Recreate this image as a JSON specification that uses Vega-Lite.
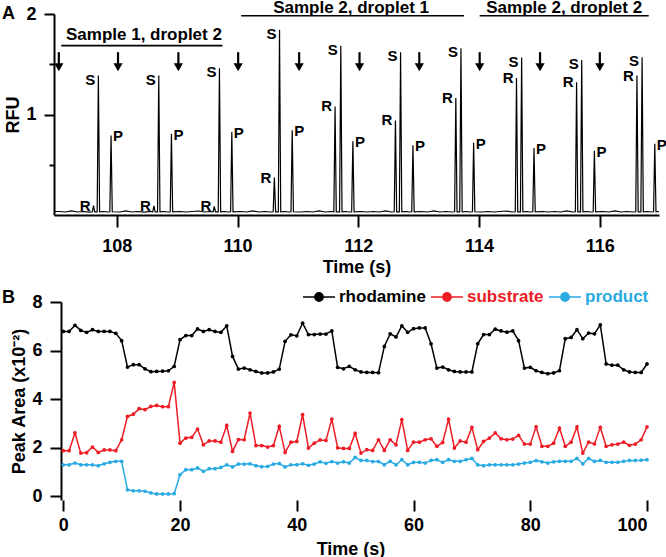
{
"$schema":"https://vega.github.io/schema/vega-lite/v6.json",
"background":"white",
"padding":{"left":2,"top":-2,"right":2,"bottom":0},
"spacing":13,
"config":{
 "font":"Liberation Sans",
 "view":{"stroke":null},
 "axis":{"domainColor":"black","domainWidth":2,"tickColor":"black","tickWidth":2,"labelColor":"black","labelFont":"Liberation Sans","labelFontSize":18,"labelFontWeight":"bold","titleColor":"black","titleFont":"Liberation Sans","titleFontSize":18,"titleFontWeight":"bold","grid":false},
 "title":{"font":"Liberation Sans","fontSize":18,"fontWeight":"bold","color":"black"}
},
"datasets":{
 "trace":[
{"t":106.96,"y":0.035},
{"t":107.05,"y":0.035},{"t":107.15,"y":0.03},{"t":107.25,"y":0.04},{"t":107.35,"y":0.03},{"t":107.45,"y":0.035},{"t":107.55,"y":0.028},
{"t":107.595,"y":0.032},{"t":107.615,"y":0.094},{"t":107.635,"y":0.032},{"t":107.675,"y":0.032},{"t":107.695,"y":1.388},{"t":107.715,"y":0.032},
{"t":107.78,"y":0.035},{"t":107.85,"y":0.03},{"t":107.885,"y":0.032},{"t":107.905,"y":0.792},{"t":107.925,"y":0.032},
{"t":108.05,"y":0.03},{"t":108.15,"y":0.04},{"t":108.25,"y":0.03},{"t":108.35,"y":0.035},{"t":108.45,"y":0.028},{"t":108.55,"y":0.035},
{"t":108.595,"y":0.032},{"t":108.615,"y":0.09},{"t":108.635,"y":0.032},{"t":108.675,"y":0.032},{"t":108.695,"y":1.388},{"t":108.715,"y":0.032},
{"t":108.78,"y":0.035},{"t":108.85,"y":0.03},{"t":108.885,"y":0.032},{"t":108.905,"y":0.809},{"t":108.925,"y":0.032},
{"t":109.05,"y":0.035},{"t":109.15,"y":0.03},{"t":109.25,"y":0.035},{"t":109.35,"y":0.04},{"t":109.45,"y":0.03},{"t":109.55,"y":0.035},
{"t":109.595,"y":0.032},{"t":109.615,"y":0.085},{"t":109.635,"y":0.032},{"t":109.68,"y":0.032},{"t":109.7,"y":1.461},{"t":109.72,"y":0.032},
{"t":109.78,"y":0.035},{"t":109.85,"y":0.03},{"t":109.885,"y":0.032},{"t":109.905,"y":0.826},{"t":109.925,"y":0.032},
{"t":110.05,"y":0.035},{"t":110.15,"y":0.03},{"t":110.25,"y":0.04},{"t":110.35,"y":0.03},{"t":110.45,"y":0.035},{"t":110.55,"y":0.03},
{"t":110.59,"y":0.032},{"t":110.61,"y":0.372},{"t":110.63,"y":0.032},{"t":110.675,"y":0.032},{"t":110.695,"y":1.844},{"t":110.715,"y":0.032},
{"t":110.78,"y":0.035},{"t":110.85,"y":0.03},{"t":110.885,"y":0.032},{"t":110.905,"y":0.842},{"t":110.925,"y":0.032},
{"t":111.05,"y":0.03},{"t":111.15,"y":0.035},{"t":111.25,"y":0.03},{"t":111.35,"y":0.04},{"t":111.45,"y":0.03},{"t":111.55,"y":0.035},
{"t":111.595,"y":0.032},{"t":111.615,"y":1.08},{"t":111.635,"y":0.032},{"t":111.69,"y":0.032},{"t":111.71,"y":1.685},{"t":111.73,"y":0.032},
{"t":111.79,"y":0.035},{"t":111.85,"y":0.03},{"t":111.89,"y":0.032},{"t":111.91,"y":0.733},{"t":111.93,"y":0.032},
{"t":112.05,"y":0.035},{"t":112.15,"y":0.03},{"t":112.25,"y":0.035},{"t":112.35,"y":0.03},{"t":112.45,"y":0.04},{"t":112.55,"y":0.03},
{"t":112.595,"y":0.032},{"t":112.615,"y":0.941},{"t":112.635,"y":0.032},{"t":112.68,"y":0.032},{"t":112.7,"y":1.62},{"t":112.72,"y":0.032},
{"t":112.79,"y":0.035},{"t":112.85,"y":0.03},{"t":112.885,"y":0.032},{"t":112.905,"y":0.693},{"t":112.925,"y":0.032},
{"t":113.05,"y":0.035},{"t":113.15,"y":0.03},{"t":113.25,"y":0.04},{"t":113.35,"y":0.03},{"t":113.45,"y":0.035},{"t":113.55,"y":0.03},
{"t":113.595,"y":0.032},{"t":113.615,"y":1.163},{"t":113.635,"y":0.032},{"t":113.68,"y":0.032},{"t":113.7,"y":1.66},{"t":113.72,"y":0.032},
{"t":113.79,"y":0.035},{"t":113.85,"y":0.03},{"t":113.89,"y":0.032},{"t":113.91,"y":0.72},{"t":113.93,"y":0.032},
{"t":114.05,"y":0.03},{"t":114.15,"y":0.035},{"t":114.25,"y":0.03},{"t":114.35,"y":0.035},{"t":114.45,"y":0.04},{"t":114.55,"y":0.03},
{"t":114.6,"y":0.032},{"t":114.62,"y":1.362},{"t":114.64,"y":0.032},{"t":114.685,"y":0.032},{"t":114.705,"y":1.566},{"t":114.725,"y":0.032},
{"t":114.79,"y":0.035},{"t":114.85,"y":0.03},{"t":114.89,"y":0.032},{"t":114.91,"y":0.667},{"t":114.93,"y":0.032},
{"t":115.05,"y":0.035},{"t":115.15,"y":0.03},{"t":115.25,"y":0.035},{"t":115.35,"y":0.03},{"t":115.45,"y":0.04},{"t":115.55,"y":0.03},
{"t":115.595,"y":0.032},{"t":115.615,"y":1.322},{"t":115.635,"y":0.032},{"t":115.68,"y":0.032},{"t":115.7,"y":1.543},{"t":115.72,"y":0.032},
{"t":115.79,"y":0.035},{"t":115.85,"y":0.03},{"t":115.89,"y":0.032},{"t":115.91,"y":0.64},{"t":115.93,"y":0.032},
{"t":116.05,"y":0.035},{"t":116.15,"y":0.03},{"t":116.25,"y":0.04},{"t":116.35,"y":0.03},{"t":116.45,"y":0.035},{"t":116.55,"y":0.03},
{"t":116.595,"y":0.032},{"t":116.615,"y":1.388},{"t":116.635,"y":0.032},{"t":116.68,"y":0.032},{"t":116.7,"y":1.57},{"t":116.72,"y":0.032},
{"t":116.79,"y":0.035},{"t":116.85,"y":0.03},{"t":116.89,"y":0.032},{"t":116.91,"y":0.71},{"t":116.93,"y":0.032},
{"t":116.98,"y":0.035}
 ],
 "shaft":[
{"t":107.04,"y":1.62,"y2":1.49},{"t":108.02,"y":1.62,"y2":1.49},{"t":109.02,"y":1.62,"y2":1.49},{"t":110.01,"y":1.62,"y2":1.49},{"t":111.02,"y":1.62,"y2":1.49},
{"t":112.02,"y":1.62,"y2":1.49},{"t":113.01,"y":1.62,"y2":1.49},{"t":114.01,"y":1.62,"y2":1.49},{"t":115.01,"y":1.62,"y2":1.49},{"t":116.0,"y":1.62,"y2":1.49}
 ],
 "head":[
{"t":107.04,"y":1.47},{"t":108.02,"y":1.47},{"t":109.02,"y":1.47},{"t":110.01,"y":1.47},{"t":111.02,"y":1.47},
{"t":112.02,"y":1.47},{"t":113.01,"y":1.47},{"t":114.01,"y":1.47},{"t":115.01,"y":1.47},{"t":116.0,"y":1.47}
 ],
 "brackets":[
{"t":107.08,"t2":109.75,"y":1.685},{"t":110.06,"t2":113.75,"y":1.983},{"t":114.01,"t2":116.81,"y":1.983}
 ],
 "stext":[
{"t":108.45,"y":1.742,"label":"Sample 1, droplet 2"},{"t":111.88,"y":2.012,"label":"Sample 2, droplet 1"},{"t":115.41,"y":2.012,"label":"Sample 2, droplet 2"}
 ],
 "plabels":[
{"t":107.695,"y":1.388,"lab":"S"},{"t":108.695,"y":1.388,"lab":"S"},{"t":109.7,"y":1.461,"lab":"S"},{"t":110.695,"y":1.844,"lab":"S"},{"t":111.71,"y":1.685,"lab":"S"},
{"t":112.7,"y":1.62,"lab":"S"},{"t":113.7,"y":1.66,"lab":"S"},{"t":114.705,"y":1.566,"lab":"S"},{"t":115.7,"y":1.543,"lab":"S"},{"t":116.7,"y":1.57,"lab":"S"},
{"t":107.615,"y":0.094,"lab":"R"},{"t":108.615,"y":0.09,"lab":"R"},{"t":109.615,"y":0.085,"lab":"R"},{"t":110.61,"y":0.372,"lab":"R"},{"t":111.615,"y":1.08,"lab":"R"},
{"t":112.615,"y":0.941,"lab":"R"},{"t":113.615,"y":1.163,"lab":"R"},{"t":114.62,"y":1.362,"lab":"R"},{"t":115.615,"y":1.322,"lab":"R"},{"t":116.615,"y":1.388,"lab":"R"},
{"t":107.905,"y":0.792,"lab":"P"},{"t":108.905,"y":0.809,"lab":"P"},{"t":109.905,"y":0.826,"lab":"P"},{"t":110.905,"y":0.842,"lab":"P"},{"t":111.91,"y":0.733,"lab":"P"},
{"t":112.905,"y":0.693,"lab":"P"},{"t":113.91,"y":0.72,"lab":"P"},{"t":114.91,"y":0.667,"lab":"P"},{"t":115.91,"y":0.64,"lab":"P"},{"t":116.91,"y":0.71,"lab":"P"}
 ],
 "pa":[
{"t":0,"k":"rhodamine","v":6.79},{"t":1,"k":"rhodamine","v":6.79},{"t":2,"k":"rhodamine","v":7.04},{"t":3,"k":"rhodamine","v":6.83},{"t":4,"k":"rhodamine","v":6.75},{"t":5,"k":"rhodamine","v":6.86},{"t":6,"k":"rhodamine","v":6.79},{"t":7,"k":"rhodamine","v":6.79},{"t":8,"k":"rhodamine","v":6.79},{"t":9,"k":"rhodamine","v":6.71},
{"t":10,"k":"rhodamine","v":6.41},{"t":11,"k":"rhodamine","v":5.32},{"t":12,"k":"rhodamine","v":5.42},{"t":13,"k":"rhodamine","v":5.42},{"t":14,"k":"rhodamine","v":5.25},{"t":15,"k":"rhodamine","v":5.13},{"t":16,"k":"rhodamine","v":5.14},{"t":17,"k":"rhodamine","v":5.15},{"t":18,"k":"rhodamine","v":5.17},{"t":19,"k":"rhodamine","v":5.35},
{"t":20,"k":"rhodamine","v":6.45},{"t":21,"k":"rhodamine","v":6.62},{"t":22,"k":"rhodamine","v":6.62},{"t":23,"k":"rhodamine","v":6.89},{"t":24,"k":"rhodamine","v":6.79},{"t":25,"k":"rhodamine","v":6.86},{"t":26,"k":"rhodamine","v":6.79},{"t":27,"k":"rhodamine","v":6.75},{"t":28,"k":"rhodamine","v":7.02},{"t":29,"k":"rhodamine","v":5.76},
{"t":30,"k":"rhodamine","v":5.24},{"t":31,"k":"rhodamine","v":5.28},{"t":32,"k":"rhodamine","v":5.21},{"t":33,"k":"rhodamine","v":5.14},{"t":34,"k":"rhodamine","v":5.08},{"t":35,"k":"rhodamine","v":5.08},{"t":36,"k":"rhodamine","v":5.12},{"t":37,"k":"rhodamine","v":5.24},{"t":38,"k":"rhodamine","v":6.38},{"t":39,"k":"rhodamine","v":6.65},
{"t":40,"k":"rhodamine","v":6.61},{"t":41,"k":"rhodamine","v":7.13},{"t":42,"k":"rhodamine","v":6.66},{"t":43,"k":"rhodamine","v":6.66},{"t":44,"k":"rhodamine","v":6.68},{"t":45,"k":"rhodamine","v":6.68},{"t":46,"k":"rhodamine","v":6.81},{"t":47,"k":"rhodamine","v":5.31},{"t":48,"k":"rhodamine","v":5.25},{"t":49,"k":"rhodamine","v":5.35},
{"t":50,"k":"rhodamine","v":5.21},{"t":51,"k":"rhodamine","v":5.12},{"t":52,"k":"rhodamine","v":5.1},{"t":53,"k":"rhodamine","v":5.1},{"t":54,"k":"rhodamine","v":5.09},{"t":55,"k":"rhodamine","v":6.17},{"t":56,"k":"rhodamine","v":6.69},{"t":57,"k":"rhodamine","v":6.56},{"t":58,"k":"rhodamine","v":7.02},{"t":59,"k":"rhodamine","v":6.75},
{"t":60,"k":"rhodamine","v":6.9},{"t":61,"k":"rhodamine","v":6.93},{"t":62,"k":"rhodamine","v":6.93},{"t":63,"k":"rhodamine","v":6.28},{"t":64,"k":"rhodamine","v":5.28},{"t":65,"k":"rhodamine","v":5.32},{"t":66,"k":"rhodamine","v":5.21},{"t":67,"k":"rhodamine","v":5.14},{"t":68,"k":"rhodamine","v":5.12},{"t":69,"k":"rhodamine","v":5.12},
{"t":70,"k":"rhodamine","v":5.12},{"t":71,"k":"rhodamine","v":6.28},{"t":72,"k":"rhodamine","v":6.66},{"t":73,"k":"rhodamine","v":6.66},{"t":74,"k":"rhodamine","v":6.88},{"t":75,"k":"rhodamine","v":6.81},{"t":76,"k":"rhodamine","v":6.76},{"t":77,"k":"rhodamine","v":6.81},{"t":78,"k":"rhodamine","v":6.41},{"t":79,"k":"rhodamine","v":5.28},
{"t":80,"k":"rhodamine","v":5.31},{"t":81,"k":"rhodamine","v":5.17},{"t":82,"k":"rhodamine","v":5.1},{"t":83,"k":"rhodamine","v":5.05},{"t":84,"k":"rhodamine","v":5.08},{"t":85,"k":"rhodamine","v":5.17},{"t":86,"k":"rhodamine","v":6.49},{"t":87,"k":"rhodamine","v":6.54},{"t":88,"k":"rhodamine","v":6.86},{"t":89,"k":"rhodamine","v":6.49},
{"t":90,"k":"rhodamine","v":6.72},{"t":91,"k":"rhodamine","v":6.69},{"t":92,"k":"rhodamine","v":7.06},{"t":93,"k":"rhodamine","v":5.45},{"t":94,"k":"rhodamine","v":5.4},{"t":95,"k":"rhodamine","v":5.4},{"t":96,"k":"rhodamine","v":5.21},{"t":97,"k":"rhodamine","v":5.12},{"t":98,"k":"rhodamine","v":5.1},{"t":99,"k":"rhodamine","v":5.1},
{"t":100,"k":"rhodamine","v":5.45},
{"t":0,"k":"substrate","v":1.88},{"t":1,"k":"substrate","v":1.88},{"t":2,"k":"substrate","v":2.61},{"t":3,"k":"substrate","v":1.78},{"t":4,"k":"substrate","v":1.8},{"t":5,"k":"substrate","v":2.03},{"t":6,"k":"substrate","v":1.81},{"t":7,"k":"substrate","v":1.91},{"t":8,"k":"substrate","v":1.91},{"t":9,"k":"substrate","v":1.88},
{"t":10,"k":"substrate","v":2.33},{"t":11,"k":"substrate","v":3.29},{"t":12,"k":"substrate","v":3.38},{"t":13,"k":"substrate","v":3.61},{"t":14,"k":"substrate","v":3.57},{"t":15,"k":"substrate","v":3.7},{"t":16,"k":"substrate","v":3.74},{"t":17,"k":"substrate","v":3.69},{"t":18,"k":"substrate","v":3.69},{"t":19,"k":"substrate","v":4.69},
{"t":20,"k":"substrate","v":2.19},{"t":21,"k":"substrate","v":2.4},{"t":22,"k":"substrate","v":2.43},{"t":23,"k":"substrate","v":2.77},{"t":24,"k":"substrate","v":2.12},{"t":25,"k":"substrate","v":2.28},{"t":26,"k":"substrate","v":2.28},{"t":27,"k":"substrate","v":2.23},{"t":28,"k":"substrate","v":2.92},{"t":29,"k":"substrate","v":1.85},
{"t":30,"k":"substrate","v":2.34},{"t":31,"k":"substrate","v":2.33},{"t":32,"k":"substrate","v":3.43},{"t":33,"k":"substrate","v":2.09},{"t":34,"k":"substrate","v":2.09},{"t":35,"k":"substrate","v":2.03},{"t":36,"k":"substrate","v":2.09},{"t":37,"k":"substrate","v":2.88},{"t":38,"k":"substrate","v":1.81},{"t":39,"k":"substrate","v":2.23},
{"t":40,"k":"substrate","v":2.26},{"t":41,"k":"substrate","v":3.36},{"t":42,"k":"substrate","v":1.99},{"t":43,"k":"substrate","v":2.19},{"t":44,"k":"substrate","v":2.32},{"t":45,"k":"substrate","v":2.3},{"t":46,"k":"substrate","v":3.18},{"t":47,"k":"substrate","v":2.0},{"t":48,"k":"substrate","v":1.97},{"t":49,"k":"substrate","v":1.97},
{"t":50,"k":"substrate","v":2.59},{"t":51,"k":"substrate","v":1.78},{"t":52,"k":"substrate","v":1.92},{"t":53,"k":"substrate","v":1.89},{"t":54,"k":"substrate","v":2.33},{"t":55,"k":"substrate","v":1.89},{"t":56,"k":"substrate","v":2.33},{"t":57,"k":"substrate","v":2.12},{"t":58,"k":"substrate","v":3.16},{"t":59,"k":"substrate","v":1.89},
{"t":60,"k":"substrate","v":2.23},{"t":61,"k":"substrate","v":2.23},{"t":62,"k":"substrate","v":2.33},{"t":63,"k":"substrate","v":2.37},{"t":64,"k":"substrate","v":2.06},{"t":65,"k":"substrate","v":2.22},{"t":66,"k":"substrate","v":3.18},{"t":67,"k":"substrate","v":1.99},{"t":68,"k":"substrate","v":2.28},{"t":69,"k":"substrate","v":2.23},
{"t":70,"k":"substrate","v":2.84},{"t":71,"k":"substrate","v":1.92},{"t":72,"k":"substrate","v":2.26},{"t":73,"k":"substrate","v":2.4},{"t":74,"k":"substrate","v":2.61},{"t":75,"k":"substrate","v":2.37},{"t":76,"k":"substrate","v":2.33},{"t":77,"k":"substrate","v":2.36},{"t":78,"k":"substrate","v":2.51},{"t":79,"k":"substrate","v":2.15},
{"t":80,"k":"substrate","v":2.15},{"t":81,"k":"substrate","v":2.86},{"t":82,"k":"substrate","v":2.06},{"t":83,"k":"substrate","v":2.06},{"t":84,"k":"substrate","v":2.19},{"t":85,"k":"substrate","v":2.81},{"t":86,"k":"substrate","v":2.06},{"t":87,"k":"substrate","v":2.23},{"t":88,"k":"substrate","v":2.86},{"t":89,"k":"substrate","v":1.78},
{"t":90,"k":"substrate","v":2.23},{"t":91,"k":"substrate","v":2.16},{"t":92,"k":"substrate","v":2.84},{"t":93,"k":"substrate","v":2.06},{"t":94,"k":"substrate","v":2.12},{"t":95,"k":"substrate","v":2.15},{"t":96,"k":"substrate","v":2.23},{"t":97,"k":"substrate","v":2.1},{"t":98,"k":"substrate","v":2.15},{"t":99,"k":"substrate","v":2.33},
{"t":100,"k":"substrate","v":2.86},
{"t":0,"k":"product","v":1.3},{"t":1,"k":"product","v":1.3},{"t":2,"k":"product","v":1.37},{"t":3,"k":"product","v":1.3},{"t":4,"k":"product","v":1.3},{"t":5,"k":"product","v":1.3},{"t":6,"k":"product","v":1.26},{"t":7,"k":"product","v":1.34},{"t":8,"k":"product","v":1.4},{"t":9,"k":"product","v":1.44},
{"t":10,"k":"product","v":1.44},{"t":11,"k":"product","v":0.27},{"t":12,"k":"product","v":0.23},{"t":13,"k":"product","v":0.23},{"t":14,"k":"product","v":0.21},{"t":15,"k":"product","v":0.14},{"t":16,"k":"product","v":0.1},{"t":17,"k":"product","v":0.1},{"t":18,"k":"product","v":0.1},{"t":19,"k":"product","v":0.11},
{"t":20,"k":"product","v":0.89},{"t":21,"k":"product","v":1.1},{"t":22,"k":"product","v":1.1},{"t":23,"k":"product","v":1.17},{"t":24,"k":"product","v":1.03},{"t":25,"k":"product","v":1.14},{"t":26,"k":"product","v":1.14},{"t":27,"k":"product","v":1.19},{"t":28,"k":"product","v":1.3},{"t":29,"k":"product","v":1.21},
{"t":30,"k":"product","v":1.33},{"t":31,"k":"product","v":1.33},{"t":32,"k":"product","v":1.34},{"t":33,"k":"product","v":1.26},{"t":34,"k":"product","v":1.22},{"t":35,"k":"product","v":1.23},{"t":36,"k":"product","v":1.33},{"t":37,"k":"product","v":1.35},{"t":38,"k":"product","v":1.21},{"t":39,"k":"product","v":1.3},
{"t":40,"k":"product","v":1.3},{"t":41,"k":"product","v":1.34},{"t":42,"k":"product","v":1.28},{"t":43,"k":"product","v":1.33},{"t":44,"k":"product","v":1.42},{"t":45,"k":"product","v":1.36},{"t":46,"k":"product","v":1.43},{"t":47,"k":"product","v":1.37},{"t":48,"k":"product","v":1.42},{"t":49,"k":"product","v":1.37},
{"t":50,"k":"product","v":1.6},{"t":51,"k":"product","v":1.48},{"t":52,"k":"product","v":1.48},{"t":53,"k":"product","v":1.43},{"t":54,"k":"product","v":1.43},{"t":55,"k":"product","v":1.3},{"t":56,"k":"product","v":1.44},{"t":57,"k":"product","v":1.3},{"t":58,"k":"product","v":1.51},{"t":59,"k":"product","v":1.3},
{"t":60,"k":"product","v":1.4},{"t":61,"k":"product","v":1.4},{"t":62,"k":"product","v":1.37},{"t":63,"k":"product","v":1.48},{"t":64,"k":"product","v":1.51},{"t":65,"k":"product","v":1.4},{"t":66,"k":"product","v":1.51},{"t":67,"k":"product","v":1.44},{"t":68,"k":"product","v":1.44},{"t":69,"k":"product","v":1.51},
{"t":70,"k":"product","v":1.56},{"t":71,"k":"product","v":1.3},{"t":72,"k":"product","v":1.26},{"t":73,"k":"product","v":1.3},{"t":74,"k":"product","v":1.3},{"t":75,"k":"product","v":1.3},{"t":76,"k":"product","v":1.3},{"t":77,"k":"product","v":1.3},{"t":78,"k":"product","v":1.33},{"t":79,"k":"product","v":1.37},
{"t":80,"k":"product","v":1.4},{"t":81,"k":"product","v":1.47},{"t":82,"k":"product","v":1.42},{"t":83,"k":"product","v":1.37},{"t":84,"k":"product","v":1.42},{"t":85,"k":"product","v":1.44},{"t":86,"k":"product","v":1.44},{"t":87,"k":"product","v":1.44},{"t":88,"k":"product","v":1.56},{"t":89,"k":"product","v":1.34},
{"t":90,"k":"product","v":1.56},{"t":91,"k":"product","v":1.44},{"t":92,"k":"product","v":1.48},{"t":93,"k":"product","v":1.4},{"t":94,"k":"product","v":1.4},{"t":95,"k":"product","v":1.4},{"t":96,"k":"product","v":1.44},{"t":97,"k":"product","v":1.48},{"t":98,"k":"product","v":1.48},{"t":99,"k":"product","v":1.49},
{"t":100,"k":"product","v":1.51}
 ]
},
"vconcat":[
 {
  "width":605,"height":201,
  "title":{"text":"A","anchor":"start","frame":"group","dx":-52,"offset":-38,"baseline":"alphabetic","fontSize":18},
  "encoding":{
   "x":{"field":"t","type":"quantitative","scale":{"domain":[106.96,116.98],"nice":false,"zero":false},
        "axis":{"values":[108,110,112,114,116],"format":"d","title":"Time (s)","tickSize":12,"labelPadding":10,"titlePadding":3}},
   "y":{"field":"y","type":"quantitative","scale":{"domain":[0,2],"nice":false,"zero":false},
        "axis":{"values":[0.5,1,1.5,2],"labelExpr":"datum.value === 1 ? '1' : (datum.value === 2 ? '2' : '')","tickSize":{"condition":{"test":"datum.value === 1 || datum.value === 2","value":10},"value":5},"labelPadding":8,"title":"RFU","titlePadding":3}}
  },
  "layer":[
   {"data":{"name":"trace"},"mark":{"type":"line","color":"black","strokeWidth":1.2}},
   {"data":{"name":"shaft"},"mark":{"type":"rule","color":"black","strokeWidth":2.2},"encoding":{"y2":{"field":"y2"}}},
   {"data":{"name":"head"},"mark":{"type":"point","shape":"triangle-down","filled":true,"color":"black","size":85,"opacity":1}},
   {"data":{"name":"brackets"},"mark":{"type":"rule","color":"black","strokeWidth":1.6},"encoding":{"x2":{"field":"t2"}}},
   {"data":{"name":"stext"},"mark":{"type":"text","fontSize":17,"fontWeight":"bold","baseline":"alphabetic","align":"center","color":"black"},"encoding":{"text":{"field":"label"}}},
   {"data":{"name":"plabels"},"transform":[{"filter":"datum.lab === 'S'"}],"mark":{"type":"text","fontSize":15,"fontWeight":"bold","baseline":"middle","align":"right","dx":-3,"dy":4,"color":"black"},"encoding":{"text":{"field":"lab"}}},
   {"data":{"name":"plabels"},"transform":[{"filter":"datum.lab === 'R'"}],"mark":{"type":"text","fontSize":15,"fontWeight":"bold","baseline":"middle","align":"right","dx":-3,"dy":0,"color":"black"},"encoding":{"text":{"field":"lab"}}},
   {"data":{"name":"plabels"},"transform":[{"filter":"datum.lab === 'P'"}],"mark":{"type":"text","fontSize":15,"fontWeight":"bold","baseline":"middle","align":"left","dx":2,"dy":1,"color":"black"},"encoding":{"text":{"field":"lab"}}}
  ]
 },
 {
  "width":593,"height":198,
  "title":{"text":"B","anchor":"start","frame":"group","dx":-52,"offset":-28,"baseline":"alphabetic","fontSize":18},
  "encoding":{
   "x":{"field":"t","type":"quantitative","scale":{"domain":[-1.59,100],"nice":false,"zero":false},
        "axis":{"values":[0,20,40,60,80,100],"title":"Time (s)","tickSize":11,"labelPadding":5,"titlePadding":6,"domain":false}},
   "y":{"field":"v","type":"quantitative","scale":{"domain":[-0.15,8],"nice":false,"zero":false},
        "axis":{"values":[0,2,4,6,8],"title":"Peak Area (x10⁻²)","tickSize":11,"labelPadding":8,"titlePadding":3,"offset":-7}}
  },
  "layer":[
   {"data":{"values":[{"a":0}]},"mark":{"type":"rule","color":"black","strokeWidth":2},
    "encoding":{"x":{"datum":-0.4},"x2":{"datum":100},"y":{"datum":-0.15}}},
   {"data":{"name":"pa"},"mark":{"type":"line","strokeWidth":1.5},
    "encoding":{"color":{"field":"k","type":"nominal","scale":{"domain":["rhodamine","substrate","product"],"range":["#000000","#EE1C25","#29ABE2"]},
     "legend":{"title":null,"orient":"none","legendX":248,"legendY":266,"direction":"horizontal","padding":0,
       "symbolType":"M-1,0H1M0.26,0A0.26,0.26,0,1,1,-0.26,0A0.26,0.26,0,1,1,0.26,0Z","symbolSize":1024,"symbolStrokeWidth":1.5,
       "labelFont":"Liberation Sans","labelFontSize":17,"labelFontWeight":"bold","labelOffset":3,"columnPadding":2,
       "encode":{"labels":{"update":{"fill":{"scale":"color","field":"value"}}},"symbols":{"update":{"fill":{"scale":"color","field":"value"},"stroke":{"scale":"color","field":"value"},"opacity":{"value":1}}}}}}}},
   {"data":{"name":"pa"},"mark":{"type":"point","filled":true,"size":14,"opacity":1},
    "encoding":{"color":{"field":"k","type":"nominal"}}}
  ]
 }
]
}
